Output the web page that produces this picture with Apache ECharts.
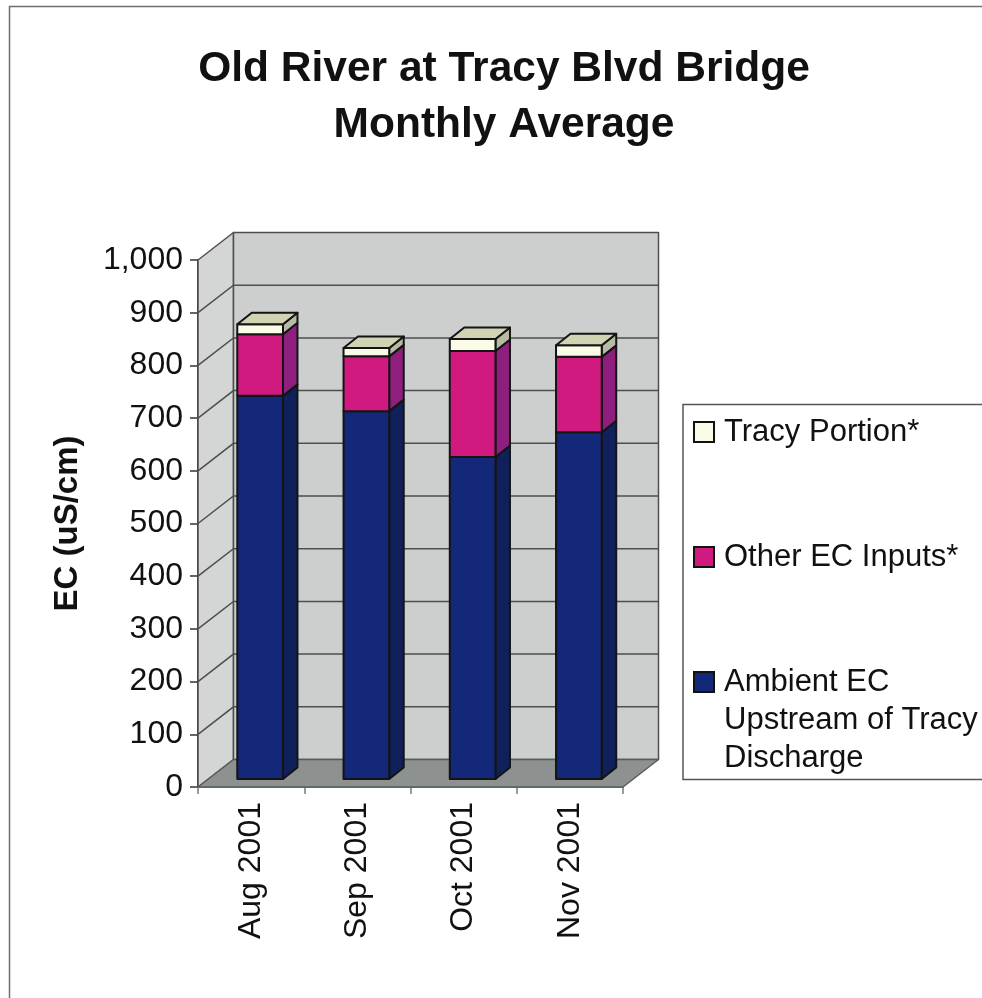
<!DOCTYPE html>
<html>
<head>
<meta charset="utf-8">
<style>html,body{margin:0;padding:0;background:#fff;overflow:hidden}#c{width:982px;height:998px}</style>
<script src="https://cdn.jsdelivr.net/npm/echarts@6/dist/echarts.min.js"></script>
</head>
<body>
<div id="c"></div>
<script>
var categories = ['Aug 2001', 'Sep 2001', 'Oct 2001', 'Nov 2001'];
var ambient = [727, 698, 611, 658];
var otherInputs = [117, 104, 201, 143];
var tracy = [19, 16, 23, 22];
var yTicks = [0, 100, 200, 300, 400, 500, 600, 700, 800, 900, 1000];
var nameAmbient = 'Ambient EC\nUpstream of Tracy\nDischarge';
var nameOther = 'Other EC Inputs*';
var nameTracy = 'Tracy Portion*';

var FONT = '"Liberation Sans", Arial, sans-serif';
var wallD = [35.5, -27.5];    // full depth of the chart box
var barOff = [9, -8];         // bar front plane inside the box
var barD = [14.5, -11.5];     // bar depth
var barFrac = 0.43;
var edge = '#141414';

function poly(points, fill, stroke, lw) {
  return {type: 'polygon', shape: {points: points},
    style: {fill: fill, stroke: stroke, lineWidth: lw, lineJoin: 'round'}};
}
function wallItem(params, api) {
  var band = api.size([1, 0])[0];
  var p0 = api.coord([0, 0]), p1 = api.coord([0, 1000]), p2 = api.coord([categories.length - 1, 0]);
  var xl = p0[0] - band / 2, xr = p2[0] + band / 2, yb = p0[1], yt = p1[1];
  var dx = wallD[0], dy = wallD[1];
  return {type: 'group', children: [
    poly([[xl, yb], [xl + dx, yb + dy], [xl + dx, yt + dy], [xl, yt]], '#d4d6d5', '#4d4f4e', 1.5),
    poly([[xl + dx, yb + dy], [xr + dx, yb + dy], [xr + dx, yt + dy], [xl + dx, yt + dy]], '#cccfce', '#4d4f4e', 1.5),
    poly([[xl, yb], [xr, yb], [xr + dx, yb + dy], [xl + dx, yb + dy]], '#8d918f', '#55605a', 1.5)
  ]};
}
function gridItem(params, api) {
  var band = api.size([1, 0])[0];
  var p = api.coord([0, api.value(0)]), r = api.coord([categories.length - 1, api.value(0)]);
  var xl = p[0] - band / 2, xr = r[0] + band / 2, y = p[1];
  return {type: 'polyline', shape: {points: [[xl, y], [xl + wallD[0], y + wallD[1]], [xr + wallD[0], y + wallD[1]]]},
    style: {fill: 'none', stroke: '#4d504f', lineWidth: 1.5}};
}
function barRender(front, side, top) {
  return function (params, api) {
    var i = api.value(0), lo = api.value(1), hi = api.value(2);
    var w = api.size([1, 0])[0] * barFrac;
    var a = api.coord([i, lo]), b = api.coord([i, hi]);
    var x0 = a[0] - w / 2 + barOff[0], x1 = x0 + w;
    var yb = a[1] + barOff[1], yt = b[1] + barOff[1];
    var dx = barD[0], dy = barD[1];
    var kids = [
      poly([[x1, yb], [x1 + dx, yb + dy], [x1 + dx, yt + dy], [x1, yt]], side, edge, 2),
      poly([[x0, yb], [x1, yb], [x1, yt], [x0, yt]], front, edge, 2)
    ];
    if (top) kids.push(poly([[x0, yt], [x1, yt], [x1 + dx, yt + dy], [x0 + dx, yt + dy]], top, edge, 2));
    return {type: 'group', children: kids};
  };
}
function stackRows(vals, below) {
  return vals.map(function (v, i) { return [i, below[i], below[i] + v]; });
}
var base0 = categories.map(function () { return 0; });
var base1 = ambient.slice();
var base2 = ambient.map(function (v, i) { return v + otherInputs[i]; });

var chart = echarts.init(document.getElementById('c'), null, {renderer: 'canvas'});
chart.setOption({
  animation: false,
  backgroundColor: '#ffffff',
  textStyle: {fontFamily: FONT},
  title: {
    text: 'Old River at Tracy Blvd Bridge\nMonthly Average',
    left: 499, top: 36, textAlign: 'center',
    textStyle: {fontFamily: FONT, fontSize: 42.5, fontWeight: 'bold', color: '#111', lineHeight: 56}
  },
  grid: {left: 198, top: 260, width: 425, height: 527},
  xAxis: {
    type: 'category', data: categories, boundaryGap: true,
    axisLine: {lineStyle: {color: '#55605a', width: 1.5}},
    axisTick: {show: true, length: 7, lineStyle: {color: '#7a7a7a', width: 1.5}},
    axisLabel: {rotate: 90, fontSize: 32, color: '#111', margin: 15, fontFamily: FONT, padding: [0, 0, 4, 0]},
    splitLine: {show: false}
  },
  yAxis: {
    type: 'value', min: 0, max: 1000, interval: 100,
    name: 'EC (uS/cm)', nameLocation: 'middle', nameRotate: 90, nameGap: 114,
    nameTextStyle: {fontFamily: FONT, fontSize: 33, fontWeight: 'bold', color: '#111'},
    axisLine: {show: true, lineStyle: {color: '#333', width: 2}},
    axisTick: {show: true, length: 8, lineStyle: {color: '#333', width: 1.5}},
    axisLabel: {fontSize: 32, color: '#111', margin: 15, fontFamily: FONT,
      formatter: function (v) { return v >= 1000 ? '1,000' : String(v); }},
    splitLine: {show: false}
  },
  legend: {
    show: true, orient: 'vertical', left: 688, top: 332, itemWidth: 20, itemHeight: 20, itemGap: 11,
    selectedMode: false, align: 'left', icon: 'rect',
    itemStyle: {borderColor: '#111', borderWidth: 2},
    textStyle: {fontFamily: FONT, fontSize: 31, color: '#111', lineHeight: 38, padding: [0, 0, 0, 5]},
    formatter: function (n) {
      if (n === nameOther) return n;
      if (n === nameTracy) return '\n\n' + n + '\n\n';
      return '\n\n' + n;
    },
    data: [nameTracy, nameOther, nameAmbient]
  },
  graphic: [
    {type: 'rect', z: -10, silent: true, shape: {x: 9.5, y: 6.5, width: 1100, height: 1100},
      style: {fill: 'none', stroke: '#6e6e6e', lineWidth: 1.5}},
    {type: 'rect', z: -10, silent: true, shape: {x: 683, y: 404.5, width: 400, height: 375},
      style: {fill: '#fff', stroke: '#555', lineWidth: 1.5}}
  ],
  series: [
    {type: 'custom', name: 'walls', z: 1, silent: true, data: [[0]], renderItem: wallItem},
    {type: 'custom', name: 'grid', z: 2, silent: true, data: yTicks.slice(1, 10).map(function (t) { return [t]; }), renderItem: gridItem},
    {type: 'custom', name: nameAmbient, z: 3, itemStyle: {color: '#14287a'}, data: stackRows(ambient, base0),
      renderItem: barRender('#14287a', '#10205a', null), encode: {x: 0, y: 2}},
    {type: 'custom', name: nameOther, z: 4, itemStyle: {color: '#d11a80'}, data: stackRows(otherInputs, base1),
      renderItem: barRender('#d11a80', '#8e1f7e', null), encode: {x: 0, y: 2}},
    {type: 'custom', name: nameTracy, z: 5, itemStyle: {color: '#fbfbe8'}, data: stackRows(tracy, base2),
      renderItem: barRender('#fbfbe8', '#b8baa4', '#d2d3b2'), encode: {x: 0, y: 2}}
  ]
});
</script>
</body>
</html>
